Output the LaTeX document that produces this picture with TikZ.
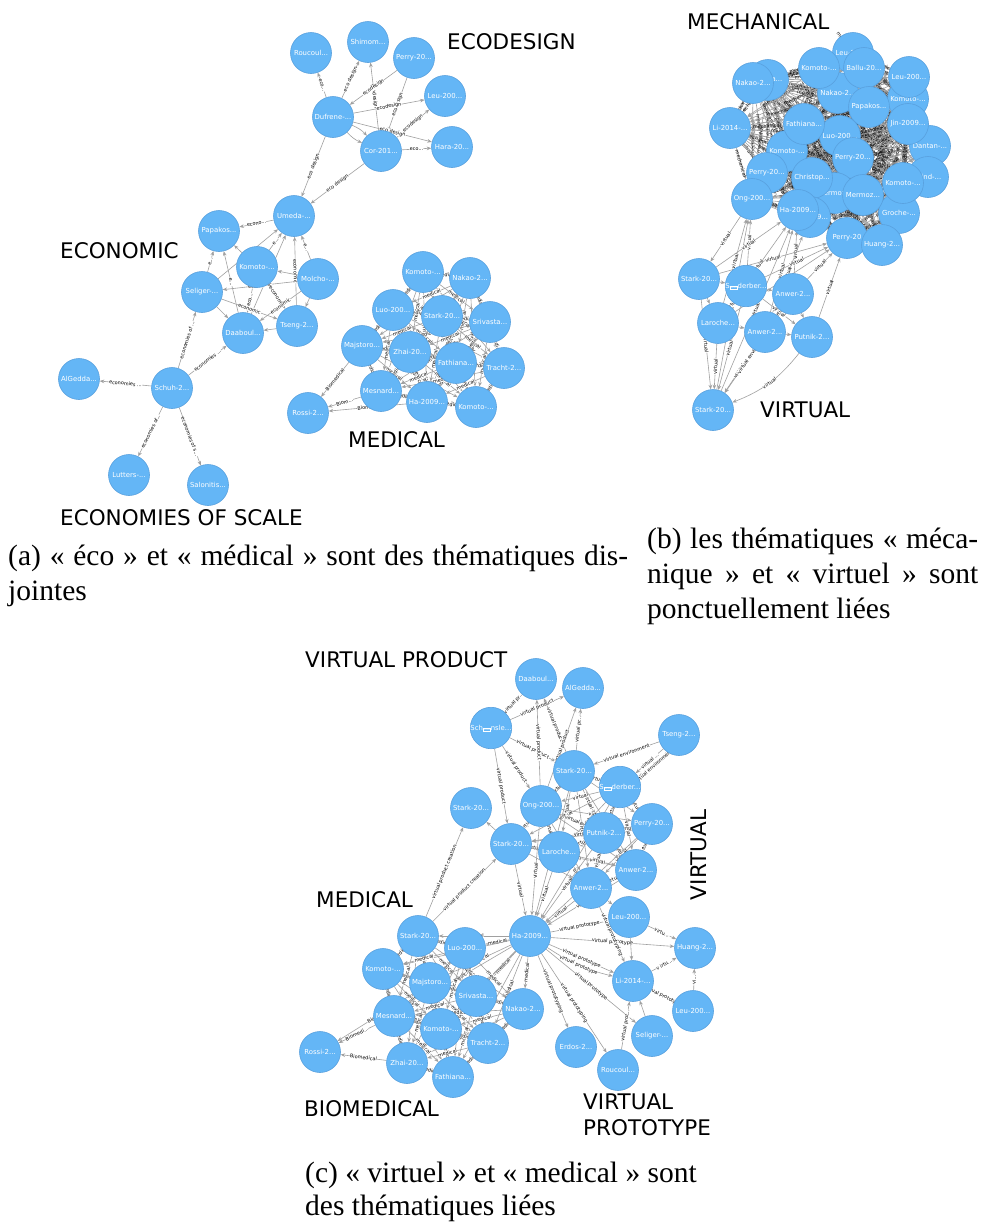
\documentclass[tikz,border=0pt]{standalone}
\usepackage{fontspec}
\setmainfont{Liberation Serif}
\newfontfamily\djv{DejaVu Sans}
\usetikzlibrary{arrows.meta,backgrounds}
\definecolor{nodeblue}{RGB}{100,182,246}
\definecolor{nodeedge}{RGB}{88,160,222}
\definecolor{lnkgray}{RGB}{160,160,160}
\newcommand\ndfont{\djv\fontsize{6.9}{7.5}\selectfont}
\newcommand\lbfont{\djv\fontsize{4.9}{5.5}\selectfont}
\newcommand\tpfont{\djv\fontsize{21.5}{24}\selectfont}
\newcommand\cpfont{\fontsize{29.5}{34}\selectfont}
\newcommand\hexbox{{\setlength\fboxsep{0.3pt}\setlength\fboxrule{0.4pt}\fbox{\djv\fontsize{2.6}{2.6}\selectfont 00F6}}}
\newcommand\edg[3]{\draw[lnk] (#1) -- node[elab]{#3} (#2);}
\newcommand\lk[2]{\draw[lnk] (#1) -- (#2);}
\newcommand\allpairs[3]{\foreach \pa [count=\cA] in {#1}{\foreach \pb [count=\cB] in {#1}{\ifnum\cB>\cA\relax\draw[lnk] (\pa) -- node[#3]{#2} (\pb);\fi}}}
\tikzset{
  nd/.style={circle, fill=nodeblue, draw=nodeedge, line width=0.6pt, minimum size=41pt, inner sep=0pt, text=white, font=\ndfont},
  lnk/.style={draw=lnkgray, line width=0.6pt, -{Stealth[length=4.5pt,width=3.6pt]}},
  elab/.style={font=\lbfont, fill=white, inner sep=0.3pt, sloped, text=black},
  dlab/.style={font=\lbfont, inner sep=0.3pt, sloped, text=black},
  topic/.style={font=\tpfont, inner sep=0pt, anchor=west},
  captxt/.style={font=\cpfont, inner sep=0pt, anchor=base west}
}
\begin{document}
\begin{tikzpicture}[x=1pt,y=-1pt]
\useasboundingbox (0,0) rectangle (981,1227);
% ---------------- panel (a) ----------------
\node[nd] (aRou) at (311,53) {Roucoul...};
\node[nd] (aShi) at (368,42) {Shimom...};
\node[nd] (aPer) at (414,58) {Perry-20...};
\node[nd] (aLeu) at (445,96) {Leu-200...};
\node[nd] (aHar) at (452,147) {Hara-20...};
\node[nd] (aDuf) at (333,117) {Dufrene-...};
\node[nd] (aCor) at (381,151) {Cor-201...};
\node[nd] (aUme) at (294,216) {Umeda-...};
\node[nd] (aPap) at (219,231) {Papakos...};
\node[nd] (aKom) at (257,267) {Komoto-...};
\node[nd] (aMol) at (318,279) {Molcho-...};
\node[nd] (aSel) at (202,292) {Seliger-...};
\node[nd] (aDaa) at (243,333) {Daaboul...};
\node[nd] (aTse) at (297,326) {Tseng-2...};
\node[nd] (aAlg) at (79,379) {AlGedda...};
\node[nd] (aSch) at (172,388) {Schuh-2...};
\node[nd] (aLut) at (129,475) {Lutters-...};
\node[nd] (aSal) at (208,485) {Salonitis...};
\node[nd] (aKomT) at (423,272) {Komoto-...};
\node[nd] (aNak) at (470,278) {Nakao-2...};
\node[nd] (aLuo) at (393,310) {Luo-200...};
\node[nd] (aSta) at (442,316) {Stark-20...};
\node[nd] (aSri) at (490,322) {Srivasta...};
\node[nd] (aMaj) at (362,346) {Majstoro...};
\node[nd] (aZha) at (410,352) {Zhai-20...};
\node[nd] (aTra) at (504,368) {Tracht-2...};
\node[nd] (aFat) at (456,363) {Fathiana...};
\node[nd] (aMes) at (381,391) {Mesnard...};
\node[nd] (aHa) at (427,402) {Ha-2009...};
\node[nd] (aKomB) at (476,407) {Komoto-...};
\node[nd] (aRos) at (308,413) {Rossi-2...};
\node[topic] (tEcod) at (447,42) {ECODESIGN};
\node[topic] (tEcon) at (60,251) {ECONOMIC};
\node[topic] (tMedA) at (348,440) {MEDICAL};
\node[topic] (tScale) at (60,518) {ECONOMIES OF SCALE};
% ---------------- panel (b) ----------------
\node[nd] (b1) at (853,53) {Leu-200...};
\node[nd] (b2) at (768,80) {\hspace{14pt}ca...};
\node[nd] (b3) at (753,83) {Nakao-2...};
\node[nd] (b4) at (838,93) {Nakao-2...};
\node[nd] (b5) at (819,68) {Komoto-...};
\node[nd] (b6) at (864,68) {Ballu-20...};
\node[nd] (b7) at (908,99) {Komoto-...};
\node[nd] (b8) at (909,77) {Leu-200...};
\node[nd] (b9) at (869,107) {Papakos...};
\node[nd] (b10) at (840,136) {Luo-200...};
\node[nd] (b11) at (930,146) {Dantan-...};
\node[nd] (b12) at (908,124) {Jin-2009...};
\node[nd] (b13) at (928,177) {Wind-...};
\node[nd] (b14) at (730,128) {Li-2014-...};
\node[nd] (b15) at (787,151) {Komoto-...};
\node[nd] (b16) at (804,124) {Fathiana...};
\node[nd] (b17) at (853,158) {Perry-20...};
\node[nd] (b18) at (767,173) {Perry-20...};
\node[nd] (b19) at (752,199) {Ong-200...};
\node[nd] (b20) at (835,193) {Mermoz...};
\node[nd] (b21) at (812,178) {Christop...};
\node[nd] (b22) at (899,213) {Groche-...};
\node[nd] (b23) at (863,195) {Mermoz...};
\node[nd] (b24) at (903,183) {Komoto-...};
\node[nd] (b25) at (810,217) {Ha-2009...};
\node[nd] (b26) at (798,210) {Ha-2009...};
\node[nd] (b27) at (847,238) {Perry-20};
\node[nd] (b28) at (882,245) {Huang-2...};
\node[nd] (bStL) at (699,279) {Stark-20...};
\node[nd] (bDer) at (746,286) {S\hexbox derber...};
\node[nd] (bAnT) at (793,294) {Anwer-2...};
\node[nd] (bLar) at (718,323) {Laroche...};
\node[nd] (bAnw) at (765,332) {Anwer-2...};
\node[nd] (bPut) at (812,337) {Putnik-2...};
\node[nd] (bStB) at (713,410) {Stark-20...};
\node[topic] (tMech) at (687,22) {MECHANICAL};
\node[topic] (tVirB) at (760,410) {VIRTUAL};
% ---------------- panel (c) ----------------
\node[nd] (cDaa) at (536,679) {Daaboul...};
\node[nd] (cAlg) at (583,688) {AlGedda...};
\node[nd] (cSch) at (491,728) {Sch\hexbox nsle...};
\node[nd] (cTse) at (679,735) {Tseng-2...};
\node[nd] (cStT) at (574,771) {Stark-20...};
\node[nd] (cDer) at (620,787) {S\hexbox derber...};
\node[nd] (cOng) at (541,806) {Ong-200...};
\node[nd] (cStL) at (471,808) {Stark-20...};
\node[nd] (cPer) at (652,824) {Perry-20...};
\node[nd] (cPut) at (604,833) {Putnik-2...};
\node[nd] (cStM2) at (511,844) {Stark-20...};
\node[nd] (cLar) at (559,852) {Laroche...};
\node[nd] (cAnR) at (636,870) {Anwer-2...};
\node[nd] (cAnw) at (591,888) {Anwer-2...};
\node[nd] (cLeu) at (629,917) {Leu-200...};
\node[nd] (cHa) at (530,936) {Ha-2009...};
\node[nd] (cHua) at (695,948) {Huang-2...};
\node[nd] (cLi) at (633,981) {Li-2014-...};
\node[nd] (cLeuR) at (693,1011) {Leu-200...};
\node[nd] (cSel) at (652,1036) {Seliger-...};
\node[nd] (cErd) at (576,1047) {Erdos-2...};
\node[nd] (cRou) at (618,1070) {Roucoul...};
\node[nd] (cStM) at (418,936) {Stark-20...};
\node[nd] (cLuo) at (465,948) {Luo-200...};
\node[nd] (cKom) at (383,969) {Komoto-...};
\node[nd] (cMaj) at (430,983) {Majstoro...};
\node[nd] (cSri) at (476,996) {Srivasta...};
\node[nd] (cNak) at (523,1009) {Nakao-2...};
\node[nd] (cMes) at (394,1016) {Mesnard...};
\node[nd] (cKomC) at (441,1029) {Komoto-...};
\node[nd] (cTra) at (488,1043) {Tracht-2...};
\node[nd] (cRos) at (320,1052) {Rossi-2...};
\node[nd] (cZha) at (407,1063) {Zhai-20...};
\node[nd] (cFat) at (453,1077) {Fathiana...};
\node[topic] (tVP) at (305,660) {VIRTUAL PRODUCT};
\node[topic, rotate=90, anchor=center] (tVirC) at (699,855) {VIRTUAL};
\node[topic] (tMedC) at (316,900) {MEDICAL};
\node[topic] (tBio) at (304,1109) {BIOMEDICAL};
\node[topic] (tVPr1) at (583,1102) {VIRTUAL};
\node[topic] (tVPr2) at (583,1128) {PROTOTYPE};
% ---------------- captions ----------------
\node[captxt] (capA1) at (8,565) {\makebox[620pt][s]{(a) «~éco~» et «~médical~» sont des thématiques dis-}};
\node[captxt] (capA2) at (8,600) {jointes};
\node[captxt] (capB1) at (647,548) {\makebox[331pt][s]{(b) les thématiques «~méca-}};
\node[captxt] (capB2) at (647,583) {\makebox[331pt][s]{nique~» et «~virtuel~» sont}};
\node[captxt] (capB3) at (647,618) {ponctuellement liées};
\node[captxt] (capC1) at (305,1182) {(c) «~virtuel~» et «~medical~» sont};
\node[captxt] (capC2) at (305,1215) {des thématiques liées};
% ---------------- connectors ----------------
\begin{pgfonlayer}{background}
\fill[white] (0,0) rectangle (981,1227);
% (a) eco
\edg{aDuf}{aRou}{eco...}
\edg{aDuf}{aShi}{eco design}
\edg{aCor}{aShi}{ecodesign}
\edg{aPer}{aDuf}{ecodesign}
\edg{aPer}{aCor}{ecodesign}
\edg{aDuf}{aLeu}{ecodesign}
\edg{aCor}{aLeu}{ecodesign}
\edg{aDuf}{aHar}{eco design}
\edg{aCor}{aHar}{eco...}
\draw[lnk] (aDuf) to[bend left=12] (aCor);
\draw[lnk] (aDuf) to[bend right=12] (aCor);
\edg{aDuf}{aUme}{eco design}
\edg{aCor}{aUme}{eco design}
\edg{aUme}{aPap}{econo...}
\edg{aKom}{aUme}{e...}
\lk{aSel}{aUme}
\edg{aDaa}{aUme}{e...}
\edg{aMol}{aUme}{e...}
\edg{aTse}{aUme}{economic}
\lk{aKom}{aPap}
\edg{aSel}{aPap}{e...}
\edg{aDaa}{aPap}{e...}
\lk{aSel}{aDaa}
\edg{aKom}{aDaa}{eco...}
\edg{aMol}{aSel}{economic}
\lk{aMol}{aTse}
\lk{aTse}{aDaa}
\edg{aSel}{aTse}{economic}
\lk{aMol}{aKom}
\edg{aKom}{aTse}{economic}
\edg{aMol}{aDaa}{economic}
\edg{aSch}{aSel}{economies of ...}
\edg{aSch}{aDaa}{economies ...}
\edg{aSch}{aAlg}{economies ...}
\edg{aSch}{aLut}{economies of...}
\edg{aSch}{aSal}{economies of s...}
% (a) medical
\allpairs{aKomT,aNak,aLuo,aSta,aSri,aMaj,aZha,aFat,aTra,aMes,aHa,aKomB}{medical}{elab}
\edg{aMaj}{aRos}{Biomedical}
\edg{aMes}{aRos}{Biom...}
\edg{aHa}{aRos}{Biome...}
% (b) mechanical
\allpairs{b1,b2,b3,b4,b5,b6,b7,b8,b9,b10,b11,b12,b13,b14,b15,b16,b17,b18,b19,b20,b21,b22,b23,b24,b25,b26,b27,b28}{mechanical}{dlab}
% (b) virtual
\edg{bLar}{bStB}{virtual}
\edg{bStL}{bStB}{virtual}
\edg{bAnw}{bStB}{virtual}
\edg{bDer}{bStB}{virtual}
\edg{bAnT}{bStB}{virtual environments}
\draw[lnk] (bPut) to[bend left=15] node[elab]{virtual} (bStB);
\edg{b19}{bStL}{virtual}
\edg{bDer}{b19}{virtual}
\edg{bLar}{b26}{virtual}
\edg{bAnw}{b26}{virtual}
\edg{bAnT}{b26}{virtual}
\edg{bPut}{b27}{virtual}
\edg{bAnT}{b27}{virtual}
\edg{bDer}{b27}{virtual}
\edg{bStL}{b27}{virtual}
\edg{bLar}{b27}{virtual}
\edg{bStB}{b19}{virtual}
\edg{bStB}{b26}{virtual}
\edg{bLar}{b19}{virtual}
\edg{bAnw}{b25}{virtual}
\edg{bStL}{b26}{virtual}
\lk{bStL}{bDer}
\lk{bLar}{bAnw}
\lk{bAnw}{bPut}
\lk{bDer}{bAnT}
\lk{bStL}{bLar}
\edg{bDer}{bLar}{virtual}
\lk{bAnT}{bPut}
\edg{bDer}{bPut}{virtual}
\edg{bAnT}{bAnw}{virtual}
% (c) virtual product
\edg{cSch}{cDaa}{virtual pr...}
\edg{cSch}{cAlg}{virtual product}
\edg{cSch}{cStT}{virtual product}
\edg{cSch}{cOng}{virtual product}
\edg{cSch}{cStM2}{virtual product}
\edg{cOng}{cDaa}{virtual product}
\edg{cStT}{cDaa}{virtual product}
\edg{cStT}{cAlg}{virtual pr...}
\edg{cOng}{cAlg}{virtual product}
\edg{cTse}{cStT}{virtual environment}
\edg{cTse}{cDer}{virtual ...}
\draw[lnk] (cTse) to[bend left=12] node[elab]{virtual environments} (cDer);
\lk{cStM2}{cStL}
\edg{cStM}{cStL}{virtual product creation}
\edg{cStM}{cStM2}{virtual product creation}
% (c) virtual
\allpairs{cStT,cDer,cOng,cPer,cPut,cStM2,cLar,cAnR,cAnw}{virtual}{elab}
\foreach \x in {cStM2,cOng,cLar,cAnw,cPut,cStT,cDer,cAnR,cPer}{\draw[lnk] (\x) -- node[elab]{virtual} (cHa);}
% (c) virtual prototype
\edg{cHa}{cLeu}{virtual prototype}
\edg{cHa}{cHua}{virtual prototype}
\edg{cHa}{cLi}{virtual prototype}
\draw[lnk] (cHa) to[bend right=10] node[elab]{virtual prototype} (cLi);
\edg{cHa}{cSel}{virtual prototype}
\edg{cHa}{cRou}{virtual prototyping}
\edg{cHa}{cErd}{virtual prototyping}
\edg{cAnw}{cLi}{virtual prototyping}
\lk{cAnw}{cLeu}
\edg{cLeu}{cHua}{virtu...}
\edg{cLi}{cHua}{v irtu...}
\edg{cLeuR}{cHua}{vi...}
\edg{cLeuR}{cLi}{virtual prototype}
\lk{cSel}{cLi}
\edg{cRou}{cLi}{virtual prot...}
\lk{cLeu}{cLi}
% (c) medical
\foreach \x in {cStM,cLuo,cMaj,cSri,cNak,cKomC,cTra,cKom,cMes,cZha,cFat}{\draw[lnk] (cHa) -- node[elab]{medical} (\x);}
\allpairs{cStM,cLuo,cKom,cMaj,cSri,cNak,cMes,cKomC,cTra,cZha,cFat}{medical}{elab}
\edg{cMes}{cRos}{Biomedi...}
\edg{cMaj}{cRos}{Biom...}
\edg{cZha}{cRos}{Biomedical}
\end{pgfonlayer}
\end{tikzpicture}
\end{document}
